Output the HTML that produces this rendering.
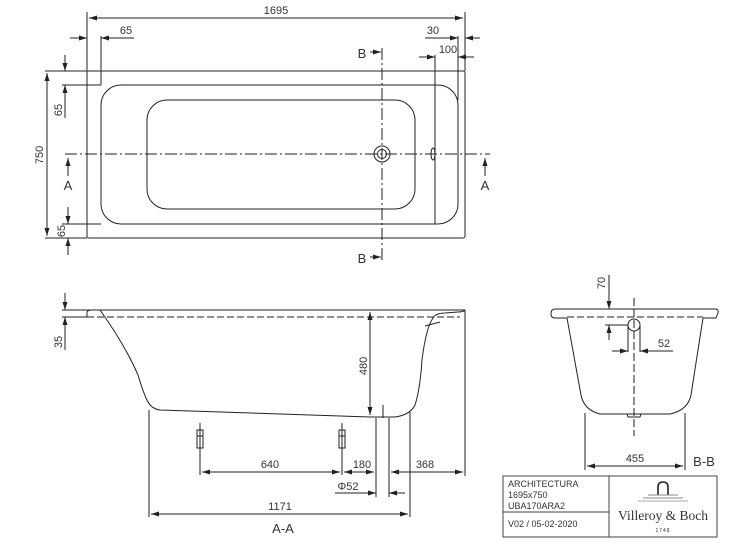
<!DOCTYPE html>
<html><head><meta charset="utf-8"><style>
html,body{margin:0;padding:0;background:#fff;}
svg{display:block;}
text{font-family:"Liberation Sans",sans-serif;fill:#333;}
</style></head><body>
<svg width="750" height="545" viewBox="0 0 750 545" xmlns="http://www.w3.org/2000/svg">
<defs>
<marker id="a" markerWidth="8" markerHeight="6" refX="8" refY="3" orient="auto-start-reverse" markerUnits="userSpaceOnUse"><path d="M0,0.5 L8,3 L0,5.5z" fill="#222"/></marker>
</defs>
<g stroke="#222" stroke-width="1" fill="none">
<!-- TOP VIEW -->
<rect x="87" y="71" width="378" height="167" rx="2"/>
<rect x="101" y="85" width="357" height="139" rx="20"/>
<rect x="147" y="100" width="268" height="109" rx="20"/>
<line x1="435" y1="55" x2="435" y2="224"/>
<line x1="101" y1="36" x2="101" y2="85"/>
<line x1="458" y1="36" x2="458" y2="100"/>
<line x1="87" y1="12" x2="87" y2="71"/>
<line x1="465" y1="12" x2="465" y2="71"/>
<line x1="89" y1="18" x2="463" y2="18" marker-start="url(#a)" marker-end="url(#a)"/>
<line x1="70" y1="38" x2="87" y2="38" marker-end="url(#a)"/>
<line x1="134" y1="38" x2="101" y2="38" marker-end="url(#a)"/>
<line x1="425" y1="38" x2="458" y2="38" marker-end="url(#a)"/>
<line x1="480" y1="38" x2="465" y2="38" marker-end="url(#a)"/>
<line x1="419" y1="57" x2="435" y2="57" marker-end="url(#a)"/>
<line x1="474" y1="57" x2="458" y2="57" marker-end="url(#a)"/>
<line x1="45" y1="71" x2="87" y2="71"/>
<line x1="45" y1="238" x2="87" y2="238"/>
<line x1="62" y1="85" x2="101" y2="85"/>
<line x1="62" y1="224" x2="101" y2="224"/>
<line x1="47" y1="73" x2="47" y2="236" marker-start="url(#a)" marker-end="url(#a)"/>
<line x1="65" y1="55" x2="65" y2="71" marker-end="url(#a)"/>
<line x1="65" y1="118" x2="65" y2="85" marker-end="url(#a)"/>
<line x1="68" y1="207" x2="68" y2="224" marker-end="url(#a)"/>
<line x1="68" y1="255" x2="68" y2="238" marker-end="url(#a)"/>
<line x1="65" y1="154" x2="490" y2="154" stroke-dasharray="12,3,2,3"/>
<line x1="382" y1="48" x2="382" y2="262" stroke-dasharray="12,3,2,3"/>
<circle cx="382" cy="154" r="8"/><circle cx="382" cy="154" r="4.5"/>
<ellipse cx="433" cy="154" rx="2" ry="6"/>
<line x1="68" y1="176" x2="68" y2="158" marker-end="url(#a)"/>
<line x1="485" y1="176" x2="485" y2="158" marker-end="url(#a)"/>
<line x1="370" y1="52" x2="381" y2="52" marker-end="url(#a)"/>
<line x1="370" y1="257" x2="381" y2="257" marker-end="url(#a)"/>

<!-- SECTION A-A -->
<line x1="62" y1="310" x2="465" y2="310"/>
<line x1="62" y1="317" x2="87" y2="317"/>
<line x1="87" y1="317" x2="460" y2="317" stroke-dasharray="7,3"/>
<path d="M87,317 L87,312 Q88,310 92,310 L100,310 Q125,345 138,375 Q144,395 148,402 Q152,409 160,410 L370,417"/>
<path d="M370,417 L395,417 Q410,415 415,405 Q420,390 422,360 Q426,328 433,318 Q436,313 445,313 L458,312 Q463,312 465,310"/>
<line x1="425" y1="326" x2="440" y2="322"/>
<line x1="370" y1="312" x2="370" y2="415" marker-start="url(#a)" marker-end="url(#a)"/>
<line x1="376" y1="418" x2="376" y2="497"/><line x1="389" y1="418" x2="389" y2="497"/>
<line x1="383" y1="405" x2="383" y2="418"/>
<line x1="149" y1="410" x2="149" y2="517"/>
<line x1="410" y1="412" x2="410" y2="517"/>
<line x1="465" y1="310" x2="465" y2="476"/>
<line x1="65" y1="293" x2="65" y2="310" marker-end="url(#a)"/>
<line x1="65" y1="350" x2="65" y2="317" marker-end="url(#a)"/>
<g>
<line x1="200" y1="423" x2="200" y2="475"/>
<rect x="197" y="430" width="6" height="18"/><line x1="197" y1="436" x2="203" y2="436"/>
<line x1="342" y1="423" x2="342" y2="475"/>
<rect x="339" y="430" width="6" height="18"/><line x1="339" y1="436" x2="345" y2="436"/>
</g>
<line x1="202" y1="472" x2="340" y2="472" marker-start="url(#a)" marker-end="url(#a)"/>
<line x1="344" y1="472" x2="374" y2="472" marker-start="url(#a)" marker-end="url(#a)"/>
<line x1="391" y1="472" x2="463" y2="472" marker-start="url(#a)" marker-end="url(#a)"/>
<line x1="335" y1="493" x2="376" y2="493" marker-end="url(#a)"/>
<line x1="405" y1="493" x2="389" y2="493" marker-end="url(#a)"/>
<line x1="151" y1="514" x2="408" y2="514" marker-start="url(#a)" marker-end="url(#a)"/>

<!-- SECTION B-B -->
<path d="M555,309 L715,309 Q719,309 718,313 L716,318 L703,318 M567,318 L555,318 Q551,318 551,314 Q551,309 555,309"/>
<line x1="567" y1="317" x2="703" y2="317" stroke-dasharray="7,3"/>
<path d="M567,318 L581,395 Q584,410 600,414 L670,414 Q688,410 691,395 L703,318"/>
<path d="M627,414 L628,417 L640,417 L641,414"/>
<line x1="634" y1="298" x2="634" y2="436" stroke-dasharray="8,3"/>
<ellipse cx="634" cy="325" rx="6" ry="6"/>
<line x1="628" y1="325" x2="628" y2="352"/><line x1="640" y1="325" x2="640" y2="352"/>
<line x1="609" y1="275" x2="609" y2="309" marker-end="url(#a)"/>
<line x1="609" y1="340" x2="609" y2="325" marker-end="url(#a)"/>
<line x1="605" y1="325" x2="628" y2="325"/>
<line x1="612" y1="351" x2="628" y2="351" marker-end="url(#a)"/>
<line x1="673" y1="351" x2="640" y2="351" marker-end="url(#a)"/>
<line x1="585" y1="413" x2="585" y2="470"/>
<line x1="685" y1="413" x2="685" y2="470"/>
<line x1="587" y1="466" x2="683" y2="466" marker-start="url(#a)" marker-end="url(#a)"/>

<!-- title block -->
<rect x="503" y="476" width="214" height="61" stroke="#444"/>
<line x1="609" y1="476" x2="609" y2="537" stroke="#444"/>
<line x1="503" y1="512" x2="609" y2="512" stroke="#444"/>
<path d="M658,495 L658,487 Q658,482 663,482 Q668,482 668,487 L668,495" stroke-width="1.6"/>
<line x1="648" y1="495" x2="678" y2="495" stroke="#888"/>
<line x1="643" y1="498" x2="683" y2="498" stroke="#888"/>
<line x1="638" y1="501" x2="688" y2="501" stroke="#aaa"/>
</g>
<g font-size="11">
<text x="276" y="14" text-anchor="middle">1695</text>
<text x="126" y="34" text-anchor="middle">65</text>
<text x="433" y="34" text-anchor="middle">30</text>
<text x="448" y="53" text-anchor="middle">100</text>
<text transform="translate(43,155) rotate(-90)" text-anchor="middle">750</text>
<text transform="translate(62,110) rotate(-90)" text-anchor="middle">65</text>
<text transform="translate(65,231) rotate(-90)" text-anchor="middle">65</text>
<text x="68" y="190" text-anchor="middle" font-size="13">A</text>
<text x="485" y="190" text-anchor="middle" font-size="13">A</text>
<text x="362" y="58" text-anchor="middle" font-size="13">B</text>
<text x="362" y="263" text-anchor="middle" font-size="13">B</text>
<text transform="translate(62,342) rotate(-90)" text-anchor="middle">35</text>
<text transform="translate(367,366) rotate(-90)" text-anchor="middle">480</text>
<text x="270" y="468" text-anchor="middle">640</text>
<text x="362" y="468" text-anchor="middle">180</text>
<text x="425" y="468" text-anchor="middle">368</text>
<text x="348" y="490" text-anchor="middle">Φ52</text>
<text x="280" y="510" text-anchor="middle">1171</text>
<text x="283" y="533" text-anchor="middle" font-size="13">A-A</text>
<text transform="translate(605,283) rotate(-90)" text-anchor="middle">70</text>
<text x="664" y="347" text-anchor="middle">52</text>
<text x="635" y="462" text-anchor="middle">455</text>
<text x="704" y="466" text-anchor="middle" font-size="13">B-B</text>
</g>
<g font-size="9">
<text x="508" y="487">ARCHITECTURA</text>
<text x="508" y="498">1695x750</text>
<text x="508" y="509">UBA170ARA2</text>
<text x="508" y="527">V02 / 05-02-2020</text>
</g>
<text x="663" y="520" text-anchor="middle" font-family="Liberation Serif,serif" font-size="13.5" style="font-family:'Liberation Serif',serif">Villeroy &amp; Boch</text>
<text x="663" y="532" text-anchor="middle" font-size="5" letter-spacing="1">1748</text>
</svg>
</body></html>
